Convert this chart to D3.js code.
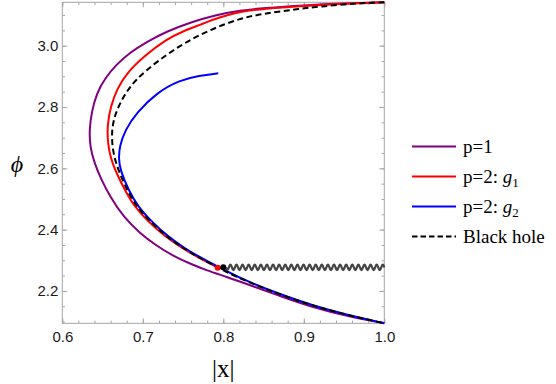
<!DOCTYPE html>
<html>
<head>
<meta charset="utf-8">
<script src="https://cdn.jsdelivr.net/npm/d3@7"></script>
<style>
  body { margin: 0; background: #fff; }
  svg { display: block; }
  .tick text { font-family: "Liberation Sans", Arial, sans-serif; font-size: 15px; fill: #1a1a1a; }
</style>
</head>
<body>
<div id="chart"></div>
<script>
// curves: [|x|, phi]
var p1Curve = [
    [1.000, 3.1416], [0.950, 3.138], [0.900, 3.132], [0.850, 3.123], [0.821, 3.115],
    [0.790, 3.100], [0.760, 3.077], [0.730, 3.047], [0.705, 3.013], [0.684, 2.978],
    [0.667, 2.938], [0.653, 2.894], [0.6427, 2.845], [0.6365, 2.785], [0.6335, 2.725],
    [0.6345, 2.670], [0.6395, 2.620], [0.648, 2.565], [0.6593, 2.508], [0.6758, 2.442],
    [0.6965, 2.388], [0.7173, 2.347], [0.7379, 2.314], [0.7586, 2.289], [0.7794, 2.267],
    [0.8042, 2.246], [0.829, 2.223], [0.8705, 2.183], [0.9118, 2.146], [0.953, 2.118],
    [1.000, 2.0944]
];
var g1Curve = [
    [1.000, 3.1416], [0.950, 3.137], [0.900, 3.130], [0.850, 3.121], [0.821, 3.111],
    [0.795, 3.093], [0.771, 3.068], [0.750, 3.047], [0.7297, 3.022], [0.7006, 2.964],
    [0.6800, 2.910], [0.6680, 2.860], [0.6600, 2.801], [0.6558, 2.740], [0.6565, 2.680],
    [0.6605, 2.630], [0.6655, 2.595], [0.677, 2.532], [0.689, 2.477], [0.706, 2.428],
    [0.727, 2.379], [0.748, 2.341], [0.769, 2.309], [0.793, 2.276]
];
var g2Curve = [
    [0.7938, 2.910], [0.770, 2.902], [0.7462, 2.888], [0.7173, 2.847], [0.6924, 2.782],
    [0.6780, 2.725], [0.6710, 2.671], [0.6700, 2.630], [0.6720, 2.595], [0.682, 2.530],
    [0.694, 2.475], [0.711, 2.426], [0.7315, 2.377], [0.752, 2.339], [0.773, 2.307],
    [0.7935, 2.279], [0.808, 2.259], [0.830, 2.231], [0.8715, 2.188], [0.9125, 2.151],
    [0.9535, 2.122], [1.000, 2.0944]
];
var bhCurve = [
    [1.000, 3.1416], [0.970, 3.139], [0.920, 3.128], [0.887, 3.118], [0.850, 3.104],
    [0.821, 3.090], [0.7835, 3.052], [0.7503, 3.008], [0.7173, 2.948], [0.690, 2.888],
    [0.6758, 2.834], [0.6660, 2.780], [0.6620, 2.735], [0.6614, 2.692], [0.6640, 2.640],
    [0.6696, 2.595], [0.680, 2.530], [0.6924, 2.475], [0.709, 2.426], [0.7297, 2.377],
    [0.7503, 2.339], [0.771, 2.307], [0.7918, 2.279], [0.8062, 2.259], [0.829, 2.231],
    [0.8705, 2.188], [0.9118, 2.151], [0.953, 2.122], [1.000, 2.0944]
];
// end points and the wavy singular line
var g1End = [0.793, 2.276];
var bhEnd = [0.800, 2.277];
var wavyLine = [[0.800, 2.277], [1.000, 2.277]];

var xTicks = [0.6, 0.7, 0.8, 0.9, 1.0];
var yTicks = [2.2, 2.4, 2.6, 2.8, 3.0];

var svgWidth = 556;
var svgHeight = 384;
var margin = { top: 2.3, left: 62.3, right: 171.7, bottom: 60.7 };
var chartWidth = svgWidth - margin.left - margin.right;
var chartHeight = svgHeight - margin.top - margin.bottom;

var svg = d3.select("#chart")
    .append("svg")
    .attr("width", svgWidth)
    .attr("height", svgHeight);

var chartGroup = svg.append("g")
    .attr("transform", `translate(${margin.left}, ${margin.top})`);

var xScale = d3.scaleLinear().domain([0.6, 1.0]).range([0, chartWidth]);
var yScale = d3.scaleLinear().domain([2 * Math.PI / 3, Math.PI]).range([chartHeight, 0]);

var xMinor = d3.range(0.6, 1.0001, 0.02).map(d => +d.toFixed(2));
var yMinor = d3.range(2.1, 3.15, 0.05).map(d => +d.toFixed(2));

var frameColor = "#a6a6a6";

function drawAxis(axis, transform) {
    var g = chartGroup.append("g").attr("transform", transform).call(axis);
    g.select(".domain").remove();
    g.selectAll(".tick line").attr("stroke", frameColor);
    return g;
}

// minor ticks on all four sides
drawAxis(d3.axisBottom(xScale).tickValues(xMinor).tickSize(-2.7).tickFormat(""), `translate(0, ${chartHeight})`);
drawAxis(d3.axisTop(xScale).tickValues(xMinor).tickSize(-2.7).tickFormat(""), "translate(0, 0)");
drawAxis(d3.axisLeft(yScale).tickValues(yMinor).tickSize(-2.7).tickFormat(""), "translate(0, 0)");
drawAxis(d3.axisRight(yScale).tickValues(yMinor).tickSize(-2.7).tickFormat(""), `translate(${chartWidth}, 0)`);

// major ticks
drawAxis(d3.axisBottom(xScale).tickValues(xTicks).tickSize(-5).tickPadding(8).tickFormat(d3.format(".1f")), `translate(0, ${chartHeight})`);
drawAxis(d3.axisTop(xScale).tickValues(xTicks).tickSize(-5).tickFormat(""), "translate(0, 0)");
drawAxis(d3.axisLeft(yScale).tickValues(yTicks).tickSize(-5).tickPadding(4).tickFormat(d3.format(".1f")), "translate(0, 0)");
drawAxis(d3.axisRight(yScale).tickValues(yTicks).tickSize(-5).tickFormat(""), `translate(${chartWidth}, 0)`);

chartGroup.append("rect")
    .attr("width", chartWidth)
    .attr("height", chartHeight)
    .attr("fill", "none")
    .attr("stroke", frameColor)
    .attr("stroke-width", 1);

var line = d3.line()
    .x(d => xScale(d[0]))
    .y(d => yScale(d[1]))
    .curve(d3.curveBasis);

var plot = chartGroup.append("g");

var series = [
    { data: p1Curve, color: "#800080", dash: null },
    { data: g1Curve, color: "#ff0000", dash: null },
    { data: g2Curve, color: "#0000ff", dash: null },
    { data: bhCurve, color: "#000000", dash: "6,3.5" }
];

series.forEach(s => {
    plot.append("path")
        .attr("d", line(s.data))
        .attr("fill", "none")
        .attr("stroke", s.color)
        .attr("stroke-width", 2)
        .attr("stroke-dasharray", s.dash);
});

// wavy line drawn between its two end points
var wx0 = xScale(wavyLine[0][0]) + 2.5, wx1 = xScale(wavyLine[1][0]);
var wy = yScale(wavyLine[0][1]);
var waves = 26, amp = 2.6;
var wavePts = d3.range(0, waves * 16 + 1).map(i => {
    var t = i / (waves * 16);
    return [wx0 + t * (wx1 - wx0), wy + amp * Math.sin(t * waves * 2 * Math.PI)];
});
plot.append("path")
    .attr("d", d3.line()(wavePts))
    .attr("fill", "none")
    .attr("stroke", "#444444")
    .attr("stroke-width", 2.2);

plot.append("circle")
    .attr("cx", xScale(g1End[0]))
    .attr("cy", yScale(g1End[1]))
    .attr("r", 3)
    .attr("fill", "#ff0000");
plot.append("circle")
    .attr("cx", xScale(bhEnd[0]))
    .attr("cy", yScale(bhEnd[1]))
    .attr("r", 3)
    .attr("fill", "#000000");

// axis titles
svg.append("text")
    .attr("x", margin.left + chartWidth / 2)
    .attr("y", 377)
    .attr("text-anchor", "middle")
    .style("font-family", "'Liberation Serif', 'Times New Roman', serif")
    .style("font-size", "25px")
    .text("|x|");

svg.append("text")
    .attr("x", 17)
    .attr("y", 172)
    .attr("text-anchor", "middle")
    .style("font-family", "'Liberation Serif', 'DejaVu Serif', serif")
    .style("font-style", "italic")
    .style("font-size", "24px")
    .text("\u03D5");

// legend
var legendRows = [146.5, 176.5, 206.5, 236.5];
var legend = svg.append("g")
    .style("font-family", "'Liberation Serif', 'Times New Roman', serif")
    .style("font-size", "19px");

series.forEach((s, i) => {
    legend.append("line")
        .attr("x1", 412).attr("x2", 456)
        .attr("y1", legendRows[i]).attr("y2", legendRows[i])
        .attr("stroke", s.color)
        .attr("stroke-width", 2)
        .attr("stroke-dasharray", s.dash ? "5.5,3" : null);
});

legend.append("text").attr("x", 463).attr("y", legendRows[0] + 6).text("p=1");

var g1Label = legend.append("text").attr("x", 463).attr("y", legendRows[1] + 6);
g1Label.append("tspan").text("p=2: ");
g1Label.append("tspan").style("font-style", "italic").text("g");
g1Label.append("tspan").attr("dy", 4).style("font-size", "13px").text("1");

var g2Label = legend.append("text").attr("x", 463).attr("y", legendRows[2] + 6);
g2Label.append("tspan").text("p=2: ");
g2Label.append("tspan").style("font-style", "italic").text("g");
g2Label.append("tspan").attr("dy", 4).style("font-size", "13px").text("2");

legend.append("text").attr("x", 463).attr("y", legendRows[3] + 6).text("Black hole");
</script>
</body>
</html>
